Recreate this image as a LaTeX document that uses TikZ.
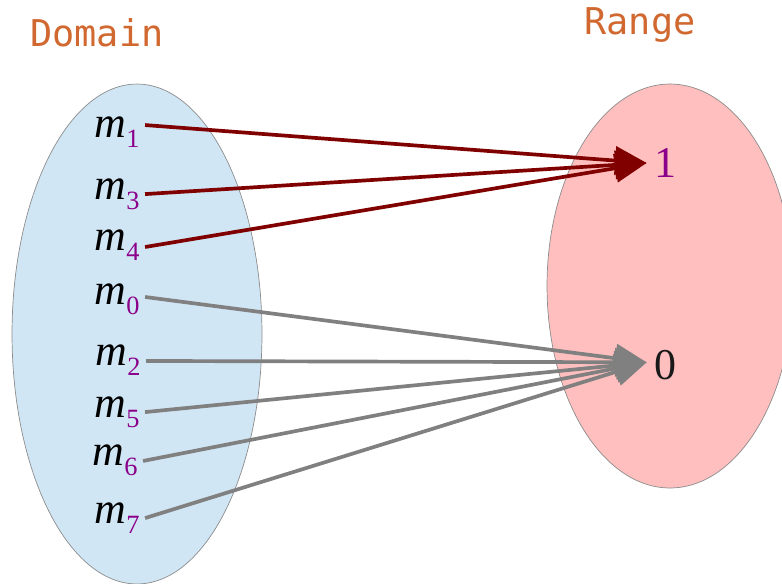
\documentclass[tikz,border=0pt]{standalone}
\usepackage{fontspec}
\setmainfont{Liberation Serif}
\newfontfamily\titlefont{DejaVu Sans Mono}
\usetikzlibrary{arrows.meta}
\definecolor{domfill}{HTML}{D0E6F4}
\definecolor{rngfill}{HTML}{FFBFBF}
\definecolor{titleorange}{HTML}{D06830}
\definecolor{subpurple}{HTML}{8B008B}
\definecolor{hitred}{HTML}{800000}
\definecolor{missgray}{HTML}{808080}
\newcommand{\msg}[1]{\itshape m\raisebox{-6pt}{\upshape\fontsize{15}{17}\selectfont\color{subpurple}#1}}
\tikzset{elem/.style={anchor=base, inner sep=3pt, font=\fontsize{25}{29}\selectfont},
  ttl/.style={font=\titlefont\fontsize{21}{25}\selectfont, text=titleorange},
  hit/.style={draw=hitred, line width=2.1pt, -{Triangle[length=18pt, width=16pt]}},
  miss/.style={draw=missgray, line width=2.1pt, -{Triangle[length=18pt, width=16pt]}}}

\begin{document}
\begin{tikzpicture}[x=0.02cm, y=-0.02cm]
  \useasboundingbox (0,0) rectangle (782,583);
  \begin{scope}
    \clip (0,0) rectangle (782,583);
    \draw[fill=domfill, draw=gray!90, line width=0.4pt] (137,334) ellipse [x radius=2.5cm, y radius=5cm];
    \draw[fill=rngfill, draw=gray!90, line width=0.4pt] (670,286) ellipse [x radius=2.46cm, y radius=4.04cm];
  \end{scope}
  \node[ttl] (dom) at (97,33) {Domain};
  \node[ttl] (rng) at (640,25) {Range};
  % domain elements
  \node[elem] (m1) at (117,137) {\msg{1}};
  \node[elem] (m3) at (117,199) {\msg{3}};
  \node[elem] (m4) at (117,250) {\msg{4}};
  \node[elem] (m0) at (117,304) {\msg{0}};
  \node[elem] (m2) at (118,365) {\msg{2}};
  \node[elem] (m5) at (117,417) {\msg{5}};
  \node[elem] (m6) at (115,465) {\msg{6}};
  \node[elem] (m7) at (117,523) {\msg{7}};
  % range elements
  \node[elem, text=subpurple, inner sep=4pt] (one) at (665,177) {1};
  \node[elem, text=black!90, inner sep=4pt] (zero) at (665,379) {0};
  % arrows
  \draw[hit] ([yshift=6.8pt]m1.base east) -- ([yshift=8pt]one.base west);
  \draw[hit] ([yshift=2.8pt]m3.base east) -- ([yshift=8pt]one.base west);
  \draw[hit] ([yshift=1.7pt]m4.base east) -- ([yshift=8pt]one.base west);
  \draw[miss] ([yshift=4pt]m0.base east) -- ([yshift=9.5pt]zero.base west);
  \draw[miss] ([yshift=2.3pt]m2.base east) -- ([yshift=9.5pt]zero.base west);
  \draw[miss] ([yshift=2.8pt]m5.base east) -- ([yshift=9.5pt]zero.base west);
  \draw[miss] ([yshift=2.3pt]m6.base east) -- ([yshift=9.5pt]zero.base west);
  \draw[miss] ([yshift=2.8pt]m7.base east) -- ([yshift=9.5pt]zero.base west);
\end{tikzpicture}
\end{document}
